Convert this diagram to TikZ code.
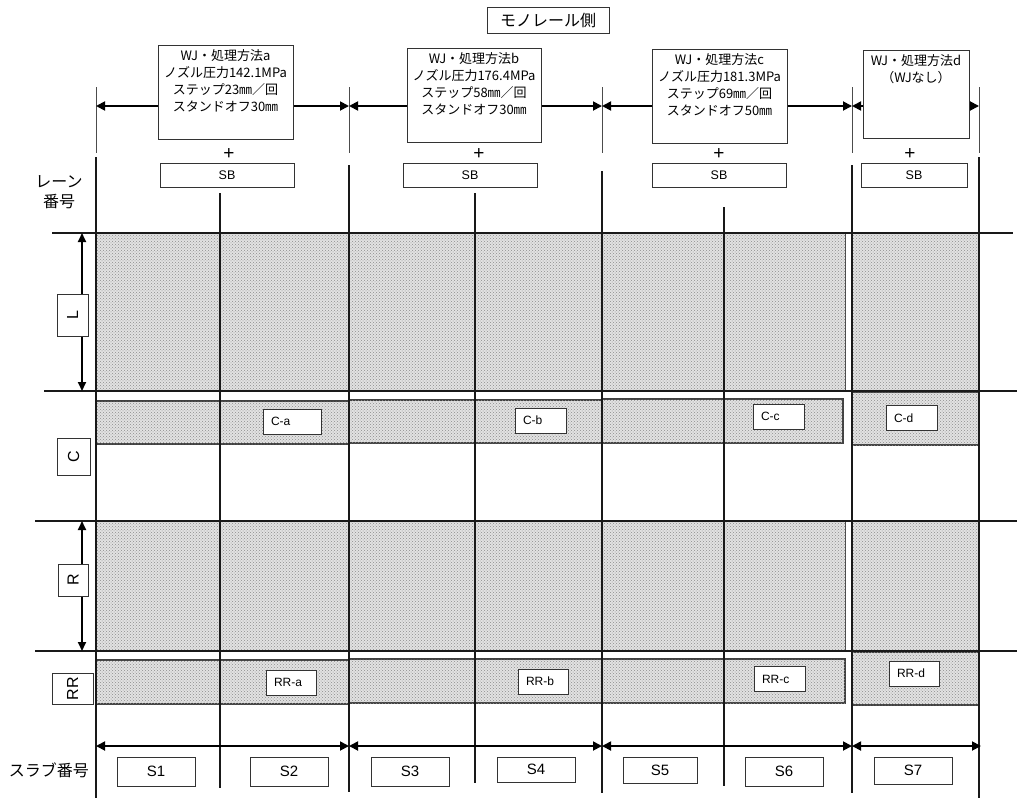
\documentclass[tikz,border=0pt]{standalone}
\usepackage{fontspec}
\usepackage{graphicx}
\setmainfont{Liberation Sans}
\newfontfamily\jp{Noto Sans CJK JP}
\usetikzlibrary{arrows.meta,patterns}
\definecolor{shadebase}{RGB}{226,226,226}
\definecolor{shadedot}{RGB}{140,140,140}
\begin{document}
\begin{tikzpicture}[x=1pt,y=-1pt,
  gridline/.style={line width=1.3pt, black!90},
  tickline/.style={line width=0.9pt, black!70},
  dimline/.style={line width=1.8pt, black,
    {Triangle[length=9pt,width=9pt]}-{Triangle[length=9pt,width=9pt]}},
  lanearrow/.style={line width=1.8pt, black,
    {Triangle[length=9pt,width=8pt]}-{Triangle[length=9pt,width=8pt]}},
  box/.style={draw=black!80, line width=1pt, fill=white, inner sep=0pt},
  wjbox/.style={box, minimum width=135pt, minimum height=94pt},
  wjtext/.style={font=\jp\fontsize{13}{16.8}\selectfont, align=center, inner sep=0pt, anchor=north},
  sbbox/.style={box, minimum width=134pt, minimum height=24pt, font=\fontsize{12.5}{12.5}\selectfont},
  plus/.style={font=\fontsize{19}{19}\selectfont, inner sep=0pt},
  lanebox/.style={box, font=\fontsize{16}{16}\selectfont},
  tagbox/.style={box, minimum height=25pt, inner xsep=8pt, align=left, font=\fontsize{12}{12}\selectfont},
  slabbox/.style={box, minimum width=78pt, minimum height=29pt, font=\fontsize{15}{15}\selectfont},
  jplabel/.style={font=\jp\fontsize{16}{20}\selectfont, inner sep=0pt, align=center},
  shaded/.style={fill=shadebase, postaction={pattern=crosshatch dots, pattern color=shadedot}},
  strip/.style={shaded, draw=black!75, line width=1.1pt},
]
\useasboundingbox (0,0) rectangle (1017,798);

% ---- shaded lanes L and R ----
\path[shaded] (96,233) rectangle (845,391);
\path[shaded] (852,233) rectangle (979,391);
\path[shaded] (96,521) rectangle (845,651);
\path[shaded] (852,521) rectangle (979,651);
\draw[tickline] (845,233) -- (845,391);
\draw[tickline] (845,521) -- (845,651);

% ---- strips in lanes C and RR ----
\draw[strip] (96,401) rectangle (349,444);
\draw[strip] (349,400) rectangle (602,443);
\draw[strip] (602,399) rectangle (843,443);
\draw[strip] (852,392) rectangle (979,445);
\draw[strip] (96,660) rectangle (349,704);
\draw[strip] (349,659) rectangle (602,703);
\draw[strip] (602,659) rectangle (845,703);
\draw[strip] (852,652) rectangle (979,705);

% ---- horizontal lane borders ----
\draw[gridline] (52,233) -- (1013,233);
\draw[gridline] (44,391) -- (1017,391);
\draw[gridline] (35,521) -- (1017,521);
\draw[gridline] (35,651) -- (1017,651);

% ---- vertical section lines ----
\foreach \x in {96,349,602,852,979}
  \draw[tickline] (\x,87) -- (\x,153);
\draw[gridline] (96,157) -- (96,798);
\draw[gridline] (220,193) -- (220,788);
\draw[gridline] (349,165) -- (349,792);
\draw[gridline] (475,193) -- (475,783);
\draw[gridline] (602,171) -- (602,793);
\draw[gridline] (724,207) -- (724,786);
\draw[gridline] (852,165) -- (852,793);
\draw[gridline] (979,157) -- (979,798);

% ---- dimension arrows, top ----
\coordinate (t0) at (96,106);
\coordinate (t1) at (349,106);
\coordinate (t2) at (602,106);
\coordinate (t3) at (852,106);
\coordinate (t4) at (979,106);
\draw[dimline] (t0) -- (t1);
\draw[dimline] (t1) -- (t2);
\draw[dimline] (t2) -- (t3);
\draw[dimline] (t3) -- (t4);

% ---- dimension arrows, bottom ----
\coordinate (b0) at (96,746);
\coordinate (b1) at (349,746);
\coordinate (b2) at (602,746);
\coordinate (b3) at (852,746);
\coordinate (b4) at (981,746);
\draw[dimline] (b0) -- (b1);
\draw[dimline] (b1) -- (b2);
\draw[dimline] (b2) -- (b3);
\draw[dimline] (b3) -- (b4);

% ---- lane arrows ----
\coordinate (lt) at (82,233);
\coordinate (lb) at (82,391);
\coordinate (rt) at (82,521);
\coordinate (rb) at (82,651);
\draw[lanearrow] (lt) -- (lb);
\draw[lanearrow] (rt) -- (rb);

% ---- title ----
\node[box, minimum width=122pt, minimum height=26pt, font=\jp\fontsize{16}{16}\selectfont] (title) at (548,20) {モノレール側};

% ---- treatment boxes ----
\node[wjbox] (wa) at (225.5,92) {};
\node[wjtext, yshift=-5pt] (wa-t) at (wa.north) {WJ・処理方法a\\ノズル圧力142.1MPa\\ステップ23㎜／回\\スタンドオフ30㎜};
\node[wjbox, minimum width=134pt] (wb) at (474,95) {};
\node[wjtext, yshift=-5pt] (wb-t) at (wb.north) {WJ・処理方法b\\ノズル圧力176.4MPa\\ステップ58㎜／回\\スタンドオフ30㎜};
\node[wjbox] (wc) at (719.5,96) {};
\node[wjtext, yshift=-5pt] (wc-t) at (wc.north) {WJ・処理方法c\\ノズル圧力181.3MPa\\ステップ69㎜／回\\スタンドオフ50㎜};
\node[wjbox, minimum width=106pt, minimum height=88pt] (wd) at (916,94) {};
\node[wjtext, yshift=-5pt] (wd-t) at (wd.north) {WJ・処理方法d\\（WJなし）};

% ---- plus signs and SB boxes ----
\node[plus] (pa) at (229,154) {+};
\node[plus] (pb) at (479,154) {+};
\node[plus] (pc) at (719,154) {+};
\node[plus] (pd) at (910,154) {+};
\node[sbbox] (sba) at (227,175) {SB};
\node[sbbox] (sbb) at (470,175) {SB};
\node[sbbox] (sbc) at (719,175) {SB};
\node[sbbox, minimum width=106pt] (sbd) at (914,175) {SB};

% ---- left headings ----
\node[jplabel] (lanehead) at (59,192) {レーン\\番号};
\node[jplabel] (slabhead) at (49,770) {スラブ番号};

% ---- lane labels ----
\node[lanebox, minimum width=31pt, minimum height=42pt] (laneL) at (72.5,315) {\rotatebox{90}{L}};
\node[lanebox, minimum width=33pt, minimum height=37pt] (laneC) at (73.5,456.5) {\rotatebox{90}{C}};
\node[lanebox, minimum width=30pt, minimum height=32pt] (laneR) at (73,580) {\rotatebox{90}{R}};
\node[lanebox, minimum width=41pt, minimum height=31pt] (laneRR) at (72.5,688.5) {\rotatebox{90}{RR}};

% ---- strip tags ----
\node[tagbox, text width=42pt] (ca) at (292,421.5) {C-a};
\node[tagbox, text width=35pt] (cb) at (540.5,420.5) {C-b};
\node[tagbox, text width=35pt] (cc) at (778.5,416.5) {C-c};
\node[tagbox, text width=35pt] (cd) at (911.5,418) {C-d};
\node[tagbox, text width=34pt] (rra) at (291,682.5) {RR-a};
\node[tagbox, text width=34pt] (rrb) at (543,681.5) {RR-b};
\node[tagbox, text width=35pt] (rrc) at (779.5,679) {RR-c};
\node[tagbox, text width=34pt] (rrd) at (914,673.5) {RR-d};

% ---- slab numbers ----
\node[slabbox] (s1) at (156,771.5) {S1};
\node[slabbox] (s2) at (289,771.5) {S2};
\node[slabbox] (s3) at (410,771.5) {S3};
\node[slabbox, minimum height=25pt] (s4) at (536,769.5) {S4};
\node[slabbox, minimum width=74pt, minimum height=26pt] (s5) at (660,770) {S5};
\node[slabbox] (s6) at (784,771.5) {S6};
\node[slabbox, minimum height=27pt] (s7) at (913,770.5) {S7};
\end{tikzpicture}
\end{document}
